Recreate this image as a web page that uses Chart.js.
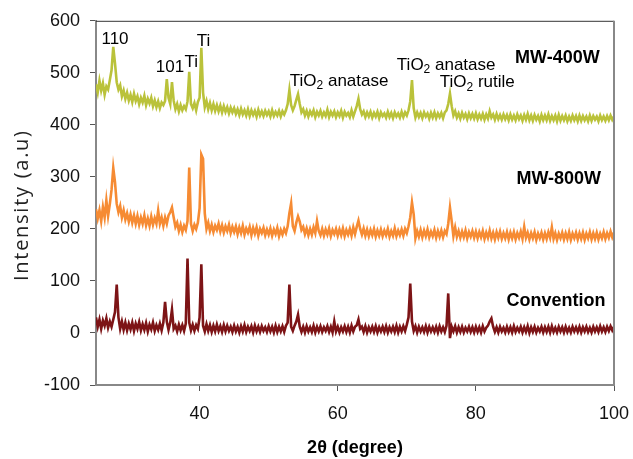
<!DOCTYPE html>
<html>
<head>
<meta charset="utf-8">
<script src="https://cdn.jsdelivr.net/npm/chart.js@4.4.1/dist/chart.umd.min.js"></script>
<style>
html,body{margin:0;padding:0;background:#fff;}
#wrap{width:633px;height:459px;}
</style>
</head>
<body>
<div id="wrap"><canvas id="c" width="633" height="459"></canvas></div>
<script>
// 2-theta sampling: start and step (degrees)
const thetaStart = 25, thetaStep = 0.25;
const xTicks = [40, 60, 80, 100];
const seriesNames = ["MW-400W", "MW-800W", "Convention"];

const mw400 = [
478,462,485,466,480,458,474,468,486,505,550,518,482,468,476,455,466,450,462,447,
458,444,460,446,455,440,452,443,456,438,450,441,452,436,447,434,445,432,443,438,
446,488,452,440,482,446,430,440,426,438,428,436,430,445,502,440,432,442,428,444,
452,548,462,434,446,430,442,428,440,427,438,426,437,424,436,425,434,422,433,424,
432,421,430,419,431,420,428,418,430,417,428,419,427,416,429,418,426,417,427,419,
426,416,428,417,425,418,427,416,426,420,428,440,467,438,428,436,448,459,440,424,
430,418,427,416,426,419,428,415,425,418,427,416,424,417,429,415,425,418,426,415,
424,417,427,414,425,418,423,415,428,416,426,436,450,430,420,426,415,424,416,425,
414,423,416,425,413,424,417,422,414,425,415,423,413,424,416,422,414,425,415,424,
418,428,445,486,432,414,424,415,423,413,424,416,422,412,423,414,424,413,422,415,
423,413,424,428,440,460,436,418,426,414,422,412,423,414,421,411,422,413,421,412,
422,411,420,412,421,410,420,412,426,414,420,410,421,411,419,410,420,411,419,409,
420,410,418,409,420,411,418,408,419,410,421,409,418,408,419,410,417,407,419,409,
418,409,420,408,417,409,418,407,419,408,417,409,418,407,416,408,418,409,417,407,
418,408,417,409,416,407,418,408,417,410,416,407,418,409,416,408,417,409,418,410,
416];

const mw800 = [
238,220,236,215,242,222,255,225,248,275,317,290,248,232,244,222,236,218,230,214,
228,212,226,210,225,208,222,210,226,207,220,206,224,208,221,210,235,210,222,206,
222,210,226,232,241,222,204,212,196,208,194,206,198,215,318,210,196,208,200,212,
240,343,335,230,200,212,196,208,194,206,198,210,195,207,193,205,196,208,192,204,
194,205,190,203,192,206,189,201,193,204,188,202,191,203,187,200,192,202,188,199,
189,201,187,199,190,202,186,198,189,200,192,205,230,249,205,196,212,224,214,198,
204,190,201,188,200,189,203,192,215,196,188,200,187,199,189,201,186,198,190,200,
187,199,188,201,186,198,189,200,187,203,190,204,216,200,189,201,187,199,186,198,
188,200,185,197,187,199,186,197,188,200,185,196,187,201,186,197,188,199,187,200,
192,205,222,251,228,182,196,185,198,184,197,186,199,184,195,186,198,183,196,185,
197,184,196,190,210,241,215,186,203,185,196,183,195,184,197,182,194,185,196,183,
195,182,194,184,196,181,193,183,197,182,193,180,194,183,195,181,192,182,194,180,
193,182,194,180,192,183,195,181,204,183,193,180,192,182,194,179,191,182,193,180,
192,181,194,183,203,181,192,179,191,182,193,180,192,181,194,179,191,182,193,180,
192,181,193,179,191,182,194,180,192,181,193,180,191,182,194,181,192,183,195,184,
193];

const conv = [
30,12,26,8,24,14,28,10,22,12,26,40,93,30,8,22,6,20,5,18,
7,20,4,18,8,21,5,17,6,19,3,16,7,20,4,15,6,18,5,20,
60,22,6,20,45,8,14,3,16,5,15,4,18,143,20,5,16,4,15,8,
30,132,14,3,17,4,15,2,14,3,16,4,13,2,15,3,14,4,12,2,
14,3,12,1,13,3,15,2,12,4,13,1,14,3,12,2,13,4,11,2,
13,3,12,1,14,2,12,3,13,2,14,20,93,12,4,14,22,35,12,2,
12,1,13,3,11,2,14,1,12,3,13,2,11,4,13,2,12,1,22,3,
12,1,11,3,13,2,12,1,14,3,12,15,26,8,12,2,13,1,11,3,
12,2,13,1,11,3,12,2,13,1,11,3,12,2,14,1,12,3,13,4,
16,30,95,22,4,13,1,12,3,11,2,13,1,12,3,11,2,12,1,13,
3,11,2,14,76,-10,12,3,13,1,11,2,12,1,10,3,12,2,11,1,
12,2,11,1,13,3,10,14,22,28,12,2,11,1,12,3,10,1,12,2,
11,1,13,2,10,3,12,1,11,2,13,0,11,2,12,1,10,3,12,1,
11,2,12,1,13,2,10,1,12,3,11,1,12,2,10,1,12,3,11,2,
12,1,11,3,12,2,10,1,12,3,11,2,13,3,11,2,12,4,13,5,
12];

// Annotation labels: [text, subscript, rest, x(deg), y(intensity), bold, size]
const peakLabels = [
  ["110", "", "", 27.75, 565, false, 17],
  ["101", "", "", 35.7, 511, false, 17],
  ["Ti", "", "", 38.8, 521, false, 17],
  ["Ti", "", "", 40.55, 560, false, 17],
  ["TiO", "2", " anatase", 60.2, 484, false, 17],
  ["TiO", "2", " anatase", 75.7, 515, false, 17],
  ["TiO", "2", " rutile", 80.2, 482, false, 17],
  ["MW-400W", "", "", 91.8, 529, true, 18],
  ["MW-800W", "", "", 92.0, 296, true, 18],
  ["Convention", "", "", 91.6, 61, true, 18]
];
const yTitle = "Intensity (a.u)";

const colors = ["#bac23a", "#f68b33", "#7d1416"];

function toPoints(arr){ return arr.map((v,i)=>({x: thetaStart + i*thetaStep, y: v})); }

const FONT = "Arial, 'Liberation Sans', sans-serif";

const framePlugin = {
  id: 'frame',
  afterDraw(chart){
    const {ctx, chartArea:a, scales} = chart;
    ctx.save();
    ctx.strokeStyle = '#333'; ctx.lineWidth = 1;
    ctx.beginPath(); ctx.moveTo(a.left, a.top+0.5); ctx.lineTo(a.right, a.top+0.5); ctx.stroke();
    ctx.strokeStyle = '#888'; ctx.lineWidth = 2;
    ctx.beginPath(); ctx.moveTo(a.right, a.top); ctx.lineTo(a.right, a.bottom+1); ctx.stroke();
    // y title with letter spacing
    ctx.save();
    ctx.translate(22, 206);
    ctx.rotate(-Math.PI/2);
    ctx.font = "20px 'Open Sans', sans-serif";
    const n = yTitle.length;
    const w0 = ctx.measureText(yTitle).width;
    const sp = Math.max(0, (150 - w0)/(n-1));
    ctx.fillStyle = '#222'; ctx.textBaseline = 'middle'; ctx.textAlign = 'left';
    let xx = -150/2;
    for (const ch of yTitle){ ctx.fillText(ch, xx, 0); xx += ctx.measureText(ch).width + sp; }
    ctx.restore();
    // labels
    ctx.fillStyle = '#000';
    ctx.textBaseline = 'middle';
    ctx.textAlign = 'left';
    for (const L of peakLabels){
      const [t, sub, rest, xv, yv, bold, size] = L;
      const px = scales.x.getPixelForValue(xv), py = scales.y.getPixelForValue(yv);
      const f = (bold?'bold ':'') + size + 'px ' + FONT;
      const fs = Math.round(size*0.7) + 'px ' + FONT;
      ctx.font = f; const w1 = ctx.measureText(t).width; const w3 = ctx.measureText(rest).width;
      ctx.font = fs; const w2 = sub ? ctx.measureText(sub).width : 0;
      let x = px - (w1+w2+w3)/2;
      ctx.font = f; ctx.fillText(t, x, py); x += w1;
      if (sub){ ctx.font = fs; ctx.fillText(sub, x, py+5); x += w2; }
      if (rest){ ctx.font = f; ctx.fillText(rest, x, py); }
    }
    ctx.restore();
  }
};

new Chart(document.getElementById('c'), {
  type: 'line',
  data: {
    datasets: [
      {label: seriesNames[0], data: toPoints(mw400), borderColor: colors[0]},
      {label: seriesNames[1], data: toPoints(mw800), borderColor: colors[1]},
      {label: seriesNames[2], data: toPoints(conv), borderColor: colors[2]}
    ].map(d=>Object.assign(d,{borderWidth:2.6, pointRadius:0, tension:0, fill:false}))
  },
  options: {
    responsive: false,
    animation: false,
    layout: {padding: {top: 20, right: 19, left: 0, bottom: 0}},
    plugins: {legend: {display:false}, tooltip: {enabled:false}},
    scales: {
      x: {
        type: 'linear', min: 25, max: 100,
        afterBuildTicks(s){ s.ticks = xTicks.map(v=>({value:v})); },
        afterFit(s){ s.height = 74; s.paddingRight = 0; s.paddingLeft = 0; },
        grid: {display:true, drawOnChartArea:false, drawTicks:true, tickLength:6, color:'#555', lineWidth:1},
        border: {display:true, color:'#888', width:2},
        ticks: {font:{family:FONT, size:18}, color:'#111', padding:12, maxRotation:0},
        title: {display:true, text:'2θ (degree)', font:{family:FONT, size:18, weight:'bold'}, color:'#000', padding:{top:0,bottom:0}}
      },
      y: {
        min: -100, max: 600,
        ticks: {stepSize:100, font:{family:FONT, size:18}, color:'#111', padding:10},
        afterFit(s){ s.width = 96; },
        grid: {display:true, drawOnChartArea:false, drawTicks:true, tickLength:6, color:'#555', lineWidth:1},
        border: {display:true, color:'#888', width:2},
        title: {display:false}
      }
    }
  },
  plugins: [framePlugin]
});
</script>
</body>
</html>
